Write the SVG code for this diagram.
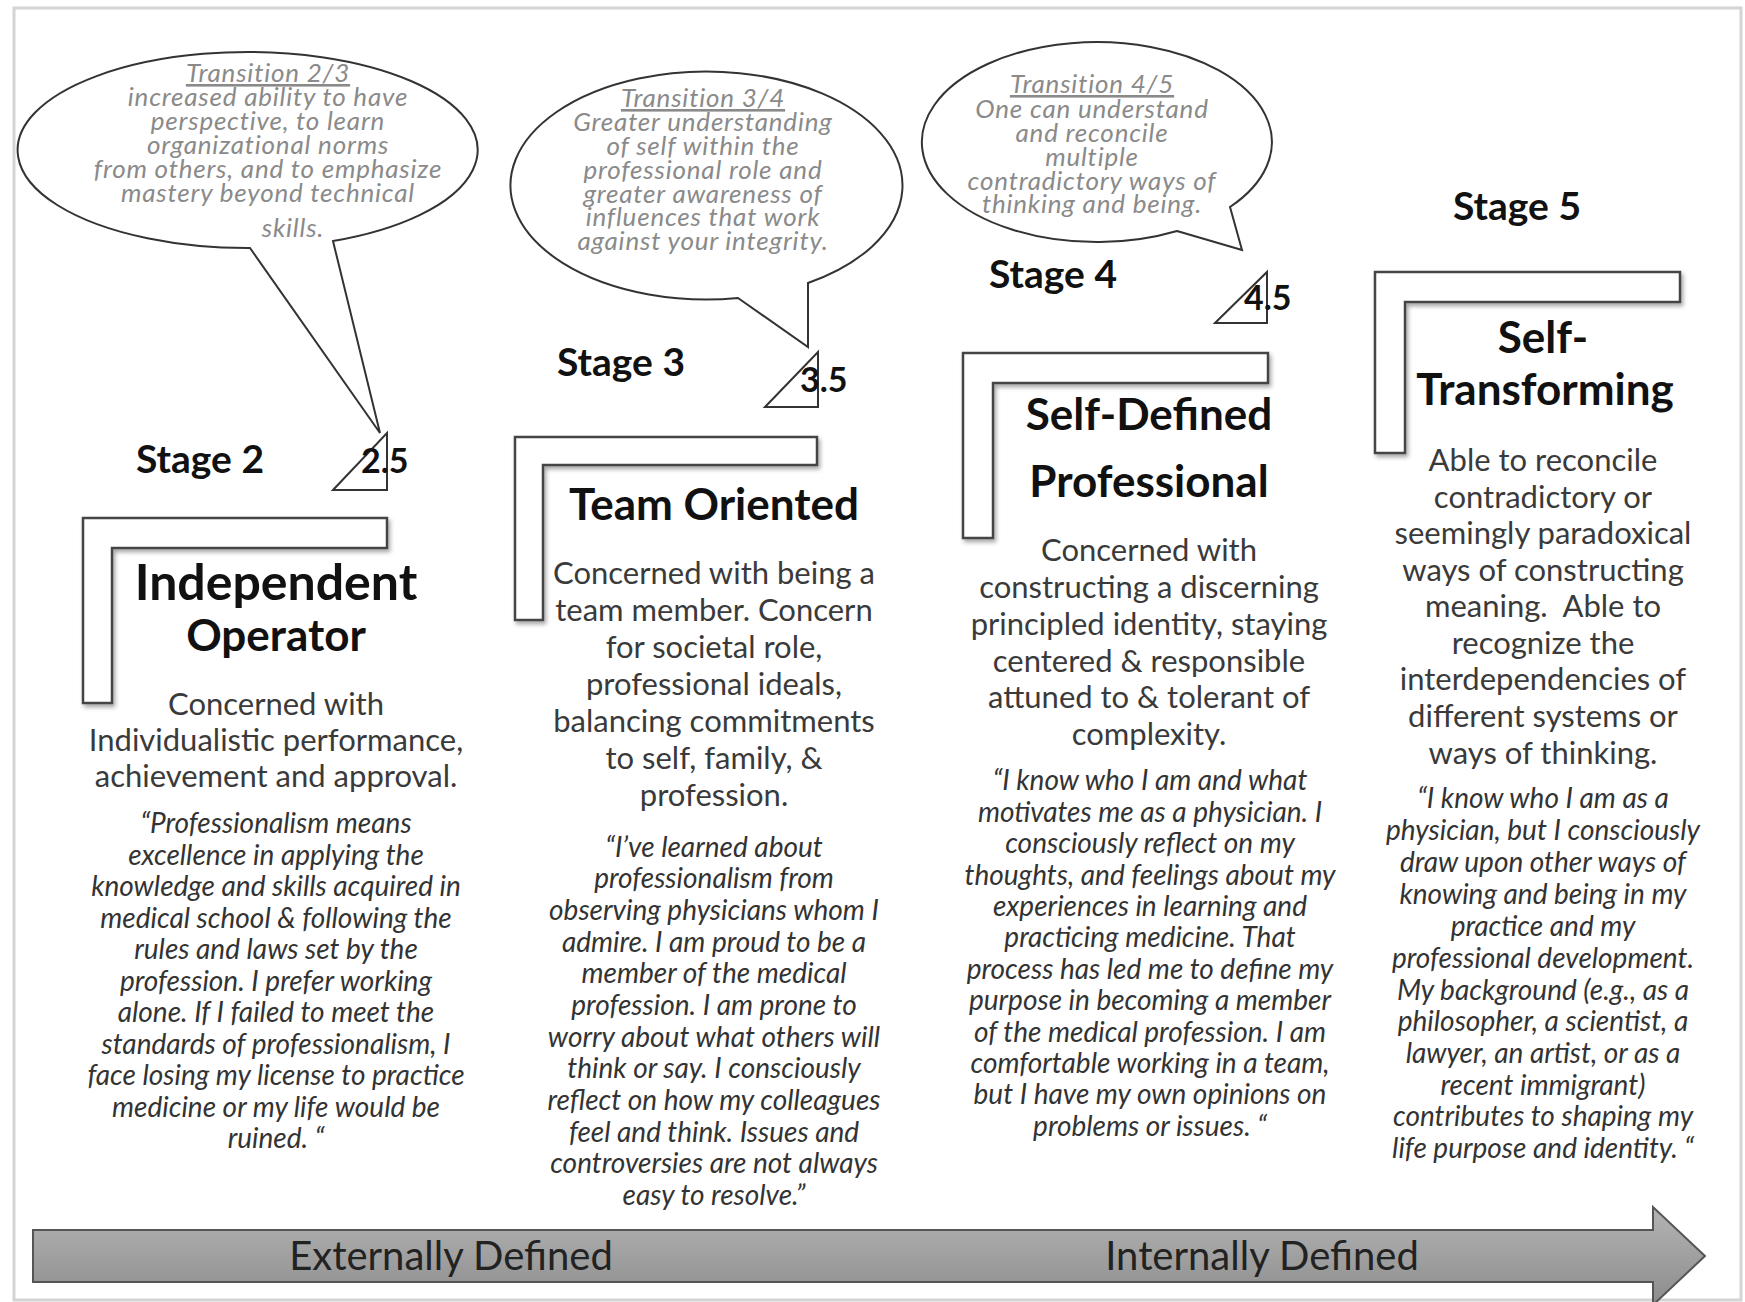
<svg xmlns="http://www.w3.org/2000/svg" width="1745" height="1302" viewBox="0 0 1745 1302">
<style>
.t{font-family:Lato,"Liberation Sans",sans-serif;text-anchor:middle}
.stage{font-weight:bold;font-size:39px;fill:#111}
.num{font-weight:bold;font-size:34px;fill:#111;text-anchor:start}
.title{font-weight:bold;font-size:44px;fill:#111}
.big{font-size:50px}
.body{font-size:31px;fill:#3a3a3a}
.quote{font-style:italic;font-size:28px;fill:#333}
.bub{font-style:italic;font-size:26px;letter-spacing:0.8px;fill:#8a8a8a}
.axis{font-size:40px;fill:#222}
.bubble{fill:#fff;stroke:#333;stroke-width:2}
.ell{fill:#fff;stroke:#444;stroke-width:2.5;filter:url(#sh)}
.tri{fill:#fff;stroke:#333;stroke-width:2}
</style>
<defs>
<filter id="sh" x="-10%" y="-10%" width="130%" height="130%">
<feDropShadow dx="2" dy="3" stdDeviation="2" flood-color="#000" flood-opacity="0.35"/>
</filter>
<linearGradient id="ag" x1="0" y1="0" x2="0" y2="1">
<stop offset="0" stop-color="#b4b4b4"/>
<stop offset="1" stop-color="#8c8c8c"/>
</linearGradient>
</defs>
<rect x="0" y="0" width="1745" height="1302" fill="#fff"/>
<rect x="14" y="8" width="1727" height="1292" fill="none" stroke="#d4d4d4" stroke-width="3"/>

<g id="bubble-2-3">
<path class="bubble" d="M250 248 L380 433 L333 241 A230 98 0 1 0 250 248 Z"/>
<text class="t bub" x="268" y="82" text-decoration="underline">Transition 2/3</text>
<text class="t bub" x="268" y="106">increased ability to have</text>
<text class="t bub" x="268" y="130">perspective, to learn</text>
<text class="t bub" x="268" y="154">organizational norms</text>
<text class="t bub" x="268" y="178">from others, and to emphasize</text>
<text class="t bub" x="268" y="202">mastery beyond technical</text>
<text class="t bub" x="293" y="237">skills.</text>
</g>

<g id="bubble-3-4">
<path class="bubble" d="M738 298 L808 347 L808 283 A196 114 0 1 0 738 298 Z"/>
<text class="t bub" x="703" y="107" text-decoration="underline">Transition 3/4</text>
<text class="t bub" x="703" y="131">Greater understanding</text>
<text class="t bub" x="703" y="155">of self within the</text>
<text class="t bub" x="703" y="179">professional role and</text>
<text class="t bub" x="703" y="203">greater awareness of</text>
<text class="t bub" x="703" y="226">influences that work</text>
<text class="t bub" x="703" y="250">against your integrity.</text>
</g>

<g id="bubble-4-5">
<path class="bubble" d="M1177 231 L1242 250 L1230 207 A175 100 0 1 0 1177 231 Z"/>
<text class="t bub" x="1092" y="93" text-decoration="underline">Transition 4/5</text>
<text class="t bub" x="1092" y="118">One can understand</text>
<text class="t bub" x="1092" y="142">and reconcile</text>
<text class="t bub" x="1092" y="166">multiple</text>
<text class="t bub" x="1092" y="190">contradictory ways of</text>
<text class="t bub" x="1092" y="213">thinking and being.</text>
</g>

<g id="stage-2">
<text class="t stage" x="200" y="473">Stage 2</text>
<polygon class="tri" points="333,490 387,433 387,490"/>
<text class="t num" x="361" y="473">2.5</text>
<path class="ell" d="M83 518 H387 V548 H112 V703 H83 Z"/>
<text class="t title big" x="276" y="600">Independent</text>
<text class="t title" x="276" y="651">Operator</text>
<text class="t body" x="276" y="715">Concerned with</text>
<text class="t body" x="276" y="751">Individualistic performance,</text>
<text class="t body" x="276" y="787">achievement and approval.</text>
<text class="t quote" x="276" y="833">“Professionalism means</text>
<text class="t quote" x="276" y="865">excellence in applying the</text>
<text class="t quote" x="276" y="896">knowledge and skills acquired in</text>
<text class="t quote" x="276" y="928">medical school &amp; following the</text>
<text class="t quote" x="276" y="959">rules and laws set by the</text>
<text class="t quote" x="276" y="991">profession. I prefer working</text>
<text class="t quote" x="276" y="1022">alone. If I failed to meet the</text>
<text class="t quote" x="276" y="1054">standards of professionalism, I</text>
<text class="t quote" x="276" y="1085">face losing my license to practice</text>
<text class="t quote" x="276" y="1117">medicine or my life would be</text>
<text class="t quote" x="276" y="1148">ruined. “</text>
</g>

<g id="stage-3">
<text class="t stage" x="621" y="376">Stage 3</text>
<polygon class="tri" points="765,407 818,352 818,407"/>
<text class="t num" x="800" y="392">3.5</text>
<path class="ell" d="M515 437 H817 V465 H543 V620 H515 Z"/>
<text class="t title" x="714" y="520">Team Oriented</text>
<text class="t body" x="714" y="584">Concerned with being a</text>
<text class="t body" x="714" y="621">team member. Concern</text>
<text class="t body" x="714" y="658">for societal role,</text>
<text class="t body" x="714" y="695">professional ideals,</text>
<text class="t body" x="714" y="732">balancing commitments</text>
<text class="t body" x="714" y="769">to self, family, &amp;</text>
<text class="t body" x="714" y="806">profession.</text>
<text class="t quote" x="714" y="857">“I’ve learned about</text>
<text class="t quote" x="714" y="888">professionalism from</text>
<text class="t quote" x="714" y="920">observing physicians whom I</text>
<text class="t quote" x="714" y="952">admire. I am proud to be a</text>
<text class="t quote" x="714" y="983">member of the medical</text>
<text class="t quote" x="714" y="1015">profession. I am prone to</text>
<text class="t quote" x="714" y="1047">worry about what others will</text>
<text class="t quote" x="714" y="1078">think or say. I consciously</text>
<text class="t quote" x="714" y="1110">reflect on how my colleagues</text>
<text class="t quote" x="714" y="1142">feel and think. Issues and</text>
<text class="t quote" x="714" y="1173">controversies are not always</text>
<text class="t quote" x="714" y="1205">easy to resolve.”</text>
</g>

<g id="stage-4">
<text class="t stage" x="1053" y="288">Stage 4</text>
<polygon class="tri" points="1215,323 1267,272 1267,323"/>
<text class="t num" x="1244" y="310">4.5</text>
<path class="ell" d="M963 353 H1268 V383 H993 V538 H963 Z"/>
<text class="t title" x="1149" y="430">Self-Defined</text>
<text class="t title" x="1149" y="497">Professional</text>
<text class="t body" x="1149" y="561">Concerned with</text>
<text class="t body" x="1149" y="598">constructing a discerning</text>
<text class="t body" x="1149" y="635">principled identity, staying</text>
<text class="t body" x="1149" y="672">centered &amp; responsible</text>
<text class="t body" x="1149" y="708">attuned to &amp; tolerant of</text>
<text class="t body" x="1149" y="745">complexity.</text>
<text class="t quote" x="1150" y="790">“I know who I am and what</text>
<text class="t quote" x="1150" y="822">motivates me as a physician. I</text>
<text class="t quote" x="1150" y="853">consciously reflect on my</text>
<text class="t quote" x="1150" y="885">thoughts, and feelings about my</text>
<text class="t quote" x="1150" y="916">experiences in learning and</text>
<text class="t quote" x="1150" y="947">practicing medicine. That</text>
<text class="t quote" x="1150" y="979">process has led me to define my</text>
<text class="t quote" x="1150" y="1010">purpose in becoming a member</text>
<text class="t quote" x="1150" y="1042">of the medical profession. I am</text>
<text class="t quote" x="1150" y="1073">comfortable working in a team,</text>
<text class="t quote" x="1150" y="1104">but I have my own opinions on</text>
<text class="t quote" x="1150" y="1136">problems or issues. “</text>
</g>

<g id="stage-5">
<text class="t stage" x="1517" y="220">Stage 5</text>
<path class="ell" d="M1375 272 H1680 V302 H1405 V453 H1375 Z"/>
<text class="t title" x="1543" y="353">Self-</text>
<text class="t title" x="1545" y="405">Transforming</text>
<text class="t body" x="1543" y="471">Able to reconcile</text>
<text class="t body" x="1543" y="508">contradictory or</text>
<text class="t body" x="1543" y="544">seemingly paradoxical</text>
<text class="t body" x="1543" y="581">ways of constructing</text>
<text class="t body" x="1543" y="617">meaning.&#160; Able to</text>
<text class="t body" x="1543" y="654">recognize the</text>
<text class="t body" x="1543" y="690">interdependencies of</text>
<text class="t body" x="1543" y="727">different systems or</text>
<text class="t body" x="1543" y="764">ways of thinking.</text>
<text class="t quote" x="1543" y="808">“I know who I am as a</text>
<text class="t quote" x="1543" y="840">physician, but I consciously</text>
<text class="t quote" x="1543" y="872">draw upon other ways of</text>
<text class="t quote" x="1543" y="904">knowing and being in my</text>
<text class="t quote" x="1543" y="936">practice and my</text>
<text class="t quote" x="1543" y="968">professional development.</text>
<text class="t quote" x="1543" y="1000">My background (e.g., as a</text>
<text class="t quote" x="1543" y="1031">philosopher, a scientist, a</text>
<text class="t quote" x="1543" y="1063">lawyer, an artist, or as a</text>
<text class="t quote" x="1543" y="1095">recent immigrant)</text>
<text class="t quote" x="1543" y="1126">contributes to shaping my</text>
<text class="t quote" x="1543" y="1158">life purpose and identity. “</text>
</g>

<g id="connectors">
<polygon points="33,1230 1653,1230 1653,1207 1705,1256 1653,1305 1653,1282 33,1282" fill="url(#ag)" stroke="#555" stroke-width="2"/>
<text class="t axis" x="451" y="1270">Externally Defined</text>
<text class="t axis" x="1262" y="1270">Internally Defined</text>
</g>
</svg>
